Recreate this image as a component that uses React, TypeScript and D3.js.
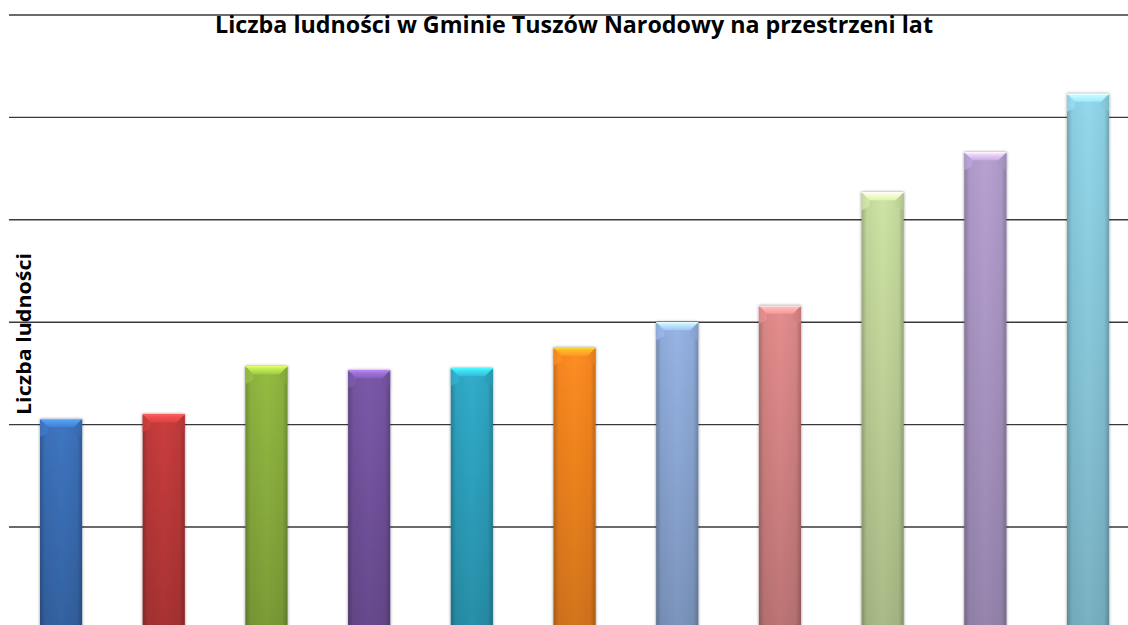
import React from "react";
import * as d3 from "d3";

const categories = ["1", "2", "3", "4", "5", "6", "7", "8", "9", "10", "11"];
const values = [2055, 2100, 2570, 2530, 2550, 2750, 3000, 3160, 4270, 4660, 5230];
const gridTicks = [1000, 2000, 3000, 4000, 5000, 6000];
const barColors = [
  "#3b70b8", "#c03a3a", "#8db23f", "#7554a1", "#2ea4c1", "#f7861f",
  "#8eabd9", "#d98686", "#c3d79b", "#ad99c8", "#8bcde1",
];
const title = "Liczba ludności w Gminie Tuszów Narodowy na przestrzeni lat";
const yLabel = "Liczba ludności";

const W = 1128;
const H = 625;

export default function App() {
  const x = d3.scaleBand<string>().domain(categories).range([9.7, 1139.4]).paddingInner(0.59).paddingOuter(0.295);
  const y = d3.scaleLinear().domain([0, 6000]).range([629.4, 15]);
  const bw = x.bandwidth();
  const bev = 8;

  return (
    <div style={{ position: "absolute", left: 0, top: 0, width: W, height: H, overflow: "hidden", background: "#fff" }}>
      <svg width={W} height={H} style={{ display: "block" }}>
        <defs>
          <filter id="sh" x="-30%" y="-10%" width="160%" height="130%">
            <feGaussianBlur in="SourceAlpha" stdDeviation="1.8" />
            <feOffset dx="0" dy="0" result="b" />
            <feComponentTransfer>
              <feFuncA type="linear" slope="0.45" />
            </feComponentTransfer>
            <feMerge>
              <feMergeNode />
              <feMergeNode in="SourceGraphic" />
            </feMerge>
          </filter>
          <linearGradient id="vshade" x1="0" y1="0" x2="0" y2="1">
            <stop offset="0" stopColor="#000" stopOpacity="0" />
            <stop offset="1" stopColor="#000" stopOpacity="0.18" />
          </linearGradient>
          {barColors.map((c, i) => {
            const base = d3.color(c)!;
            const dark = base.darker(0.6).formatHex();
            const mid = base.formatHex();
            const light = base.brighter(0.15).formatHex();
            return (
              <linearGradient key={"h" + i} id={"hg" + i} x1="0" y1="0" x2="1" y2="0">
                <stop offset="0" stopColor={dark} />
                <stop offset="0.12" stopColor={mid} />
                <stop offset="0.5" stopColor={light} />
                <stop offset="0.88" stopColor={mid} />
                <stop offset="1" stopColor={dark} />
              </linearGradient>
            );
          })}
          {barColors.map((c, i) => {
            const base = d3.color(c)!;
            return (
              <linearGradient key={"t" + i} id={"tg" + i} x1="0" y1="0" x2="0" y2="1">
                <stop offset="0" stopColor={base.brighter(1.1).formatHex()} />
                <stop offset="1" stopColor={base.brighter(0.35).formatHex()} />
              </linearGradient>
            );
          })}
        </defs>

        {gridTicks.map((t) => (
          <line key={t} x1={9} x2={W} y1={y(t)} y2={y(t)} stroke="#3a3a3a" strokeWidth={1.4} />
        ))}

        <text
          x={574}
          y={33}
          textAnchor="middle"
          fontFamily="'Open Sans', 'Liberation Sans', sans-serif"
          fontWeight="bold"
          fontSize={23}
          textLength={718}
          lengthAdjust="spacingAndGlyphs"
          fill="#000"
        >
          {title}
        </text>

        <text
          transform={`translate(31,334) rotate(-90)`}
          textAnchor="middle"
          fontFamily="'Open Sans', 'Liberation Sans', sans-serif"
          fontWeight="bold"
          fontSize={19}
          textLength={162}
          lengthAdjust="spacingAndGlyphs"
          fill="#000"
        >
          {yLabel}
        </text>

        {categories.map((cat, i) => {
          const x0 = x(cat)!;
          const top = y(values[i]);
          const bottom = H + 10;
          const base = d3.color(barColors[i])!;
          return (
            <g key={cat} filter="url(#sh)">
              <rect x={x0} y={top} width={bw} height={bottom - top} fill={`url(#hg${i})`} />
              <rect x={x0} y={top} width={bw} height={bottom - top} fill="url(#vshade)" />
              <polygon
                points={`${x0},${top} ${x0 + bev},${top + bev} ${x0 + bev},${top + bev + 6} ${x0},${top + bev + 10}`}
                fill={base.brighter(0.25).formatHex()}
                opacity={0.7}
              />
              <polygon
                points={`${x0 + bw},${top} ${x0 + bw - bev},${top + bev} ${x0 + bw - bev},${top + bev + 6} ${x0 + bw},${top + bev + 10}`}
                fill={base.darker(0.1).formatHex()}
                opacity={0.6}
              />
              <polygon
                points={`${x0},${top} ${x0 + bw},${top} ${x0 + bw - bev},${top + bev} ${x0 + bev},${top + bev}`}
                fill={`url(#tg${i})`}
              />
              <line x1={x0} x2={x0 + bw} y1={top + 0.5} y2={top + 0.5} stroke={base.brighter(1.4).formatHex()} strokeWidth={1} />
            </g>
          );
        })}
      </svg>
    </div>
  );
}
